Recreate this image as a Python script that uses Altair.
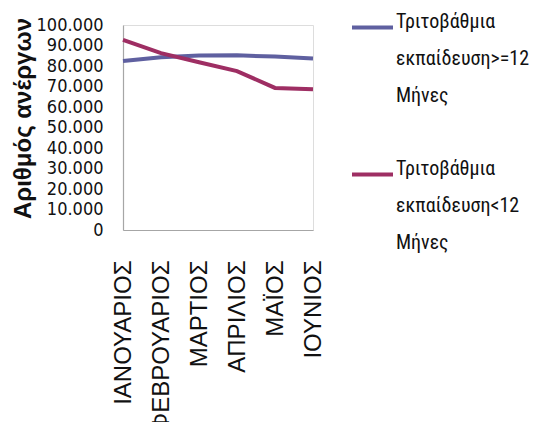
import altair as alt
import pandas as pd

months = ["ΙΑΝΟΥΑΡΙΟΣ", "ΦΕΒΡΟΥΑΡΙΟΣ", "ΜΑΡΤΙΟΣ", "ΑΠΡΙΛΙΟΣ", "ΜΑΪΟΣ", "ΙΟΥΝΙΟΣ"]
series_names = ["Τριτοβάθμια εκπαίδευση>=12 Μήνες", "Τριτοβάθμια εκπαίδευση<12 Μήνες"]
long_term = [82400, 84300, 85100, 85200, 84600, 83700]
short_term = [92700, 86300, 81800, 77500, 69300, 68700]
colors = ["#5f60a0", "#9e2e63"]

rows = []
for m, v in zip(months, long_term):
    rows.append({"month": m, "series": series_names[0], "value": v})
for m, v in zip(months, short_term):
    rows.append({"month": m, "series": series_names[1], "value": v})
df = pd.DataFrame(rows)

chart = alt.Chart(df).mark_line(strokeWidth=4).encode(
    x=alt.X("month:N", sort=months, scale=alt.Scale(type="point", padding=0),
            axis=alt.Axis(title=None, labelAngle=270, labelAlign="right", labelBaseline="middle",
                          labelPadding=30, ticks=False, labelFont="Liberation Sans", labelFontSize=24,
                          labelColor="#111", domainColor="#a6a6a6", domainWidth=1.2, grid=False,
                          labelOverlap=False, labelLimit=400)),
    y=alt.Y("value:Q", scale=alt.Scale(domain=[0, 100000], nice=False),
            axis=alt.Axis(title="Αριθμός ανέργων", values=list(range(0, 100001, 10000)),
                          labelExpr="replace(format(datum.value, ','), ',', '.')",
                          ticks=False, labelPadding=20, labelFont="DejaVu Sans Condensed",
                          labelFontSize=18, labelColor="#111", labelOverlap=False,
                          domainColor="#a6a6a6", domainWidth=1.2, grid=False,
                          titleFont="Liberation Sans", titleFontSize=24, titleFontWeight="bold",
                          titleColor="#111", titleAngle=270, titleX=-93, titleY=93,
                          titleAlign="center", titleBaseline="alphabetic")),
    color=alt.Color("series:N", sort=series_names,
                    scale=alt.Scale(domain=series_names, range=colors),
                    legend=alt.Legend(title=None, orient="none", legendX=227, legendY=-20,
                                      symbolType="stroke", symbolSize=1681, symbolStrokeWidth=4,
                                      labelOffset=1, labelFont="Roboto Condensed",
                                      labelFontSize=20, labelColor="#111", labelLimit=300,
                                      labelBaseline="alphabetic", rowPadding=46, padding=0,
                                      labelExpr="split(datum.label, ' ')")),
).properties(
    width=190, height=205,
    autosize=alt.AutoSizeParams(type="none"),
    padding={"left": 115, "top": 17, "right": 218, "bottom": 192},
).configure_view(stroke=None).configure(
    style={"guide-label": {"lineHeight": 37}}
)

chart.save("out.html", embed_options={"renderer": "svg", "actions": False})
